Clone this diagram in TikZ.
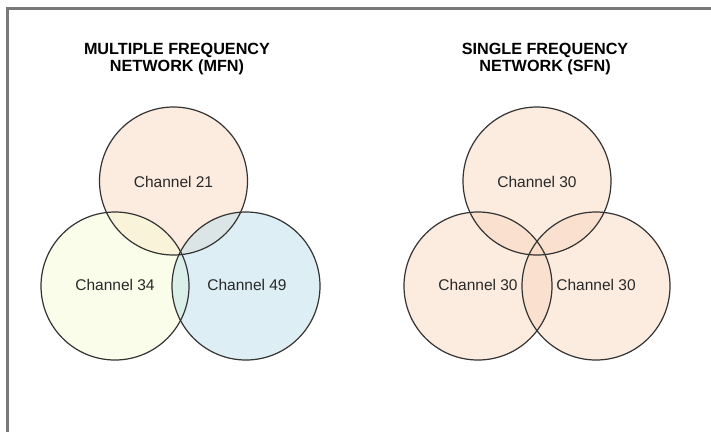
\documentclass[tikz,border=0pt]{standalone}
\usepackage{fontspec}
\setmainfont{Liberation Sans}
\definecolor{peachbase}{RGB}{250,216,192}
\definecolor{yellowbase}{RGB}{246,252,212}
\definecolor{bluebase}{RGB}{188,224,235}
\definecolor{edgecol}{RGB}{51,51,51}
\definecolor{framecol}{RGB}{120,120,120}
\definecolor{txtcol}{RGB}{40,40,40}
\tikzset{
  venn/.style={circle, minimum size=148pt, inner sep=0pt, fill opacity=0.5, text opacity=1},
  ring/.style={circle, minimum size=148pt, inner sep=0pt, draw=edgecol, line width=1.2pt},
  lbl/.style={font=\fontsize{15.5}{18}\selectfont, text=txtcol},
  ttl/.style={font=\bfseries\fontsize{16.2}{16.5}\selectfont, align=center, text=black}
}
\begin{document}
\begin{tikzpicture}[x=1pt,y=-1pt]
\useasboundingbox (0,0) rectangle (711,432);
\fill[white] (0,0) rectangle (711,432);
% frame
\draw[framecol, line width=2.2pt] (7.5,432) -- (7.5,8.5) -- (711,8.5);
% titles
\node[ttl] (t1) at (177,59) {MULTIPLE FREQUENCY\\NETWORK (MFN)};
\node[ttl] (t2) at (545,59) {SINGLE FREQUENCY\\NETWORK (SFN)};
% MFN fills
\node[venn, fill=peachbase] (a) at (173.5,181) {};
\node[venn, fill=yellowbase] (b) at (115,286) {};
\node[venn, fill=bluebase] (c) at (246,286) {};
% SFN fills
\node[venn, fill=peachbase] (d) at (537,181) {};
\node[venn, fill=peachbase] (e) at (478,286) {};
\node[venn, fill=peachbase] (f) at (596,286) {};
% outlines
\foreach \n in {a,b,c,d,e,f} { \node[ring] at (\n) {}; }
% labels
\node[lbl] (la) at (173.5,182) {Channel 21};
\node[lbl] (lb) at (115,285) {Channel 34};
\node[lbl] (lc) at (247,285) {Channel 49};
\node[lbl] (ld) at (537,182) {Channel 30};
\node[lbl] (le) at (478,285) {Channel 30};
\node[lbl] (lf) at (596,285) {Channel 30};
\end{tikzpicture}
\end{document}
